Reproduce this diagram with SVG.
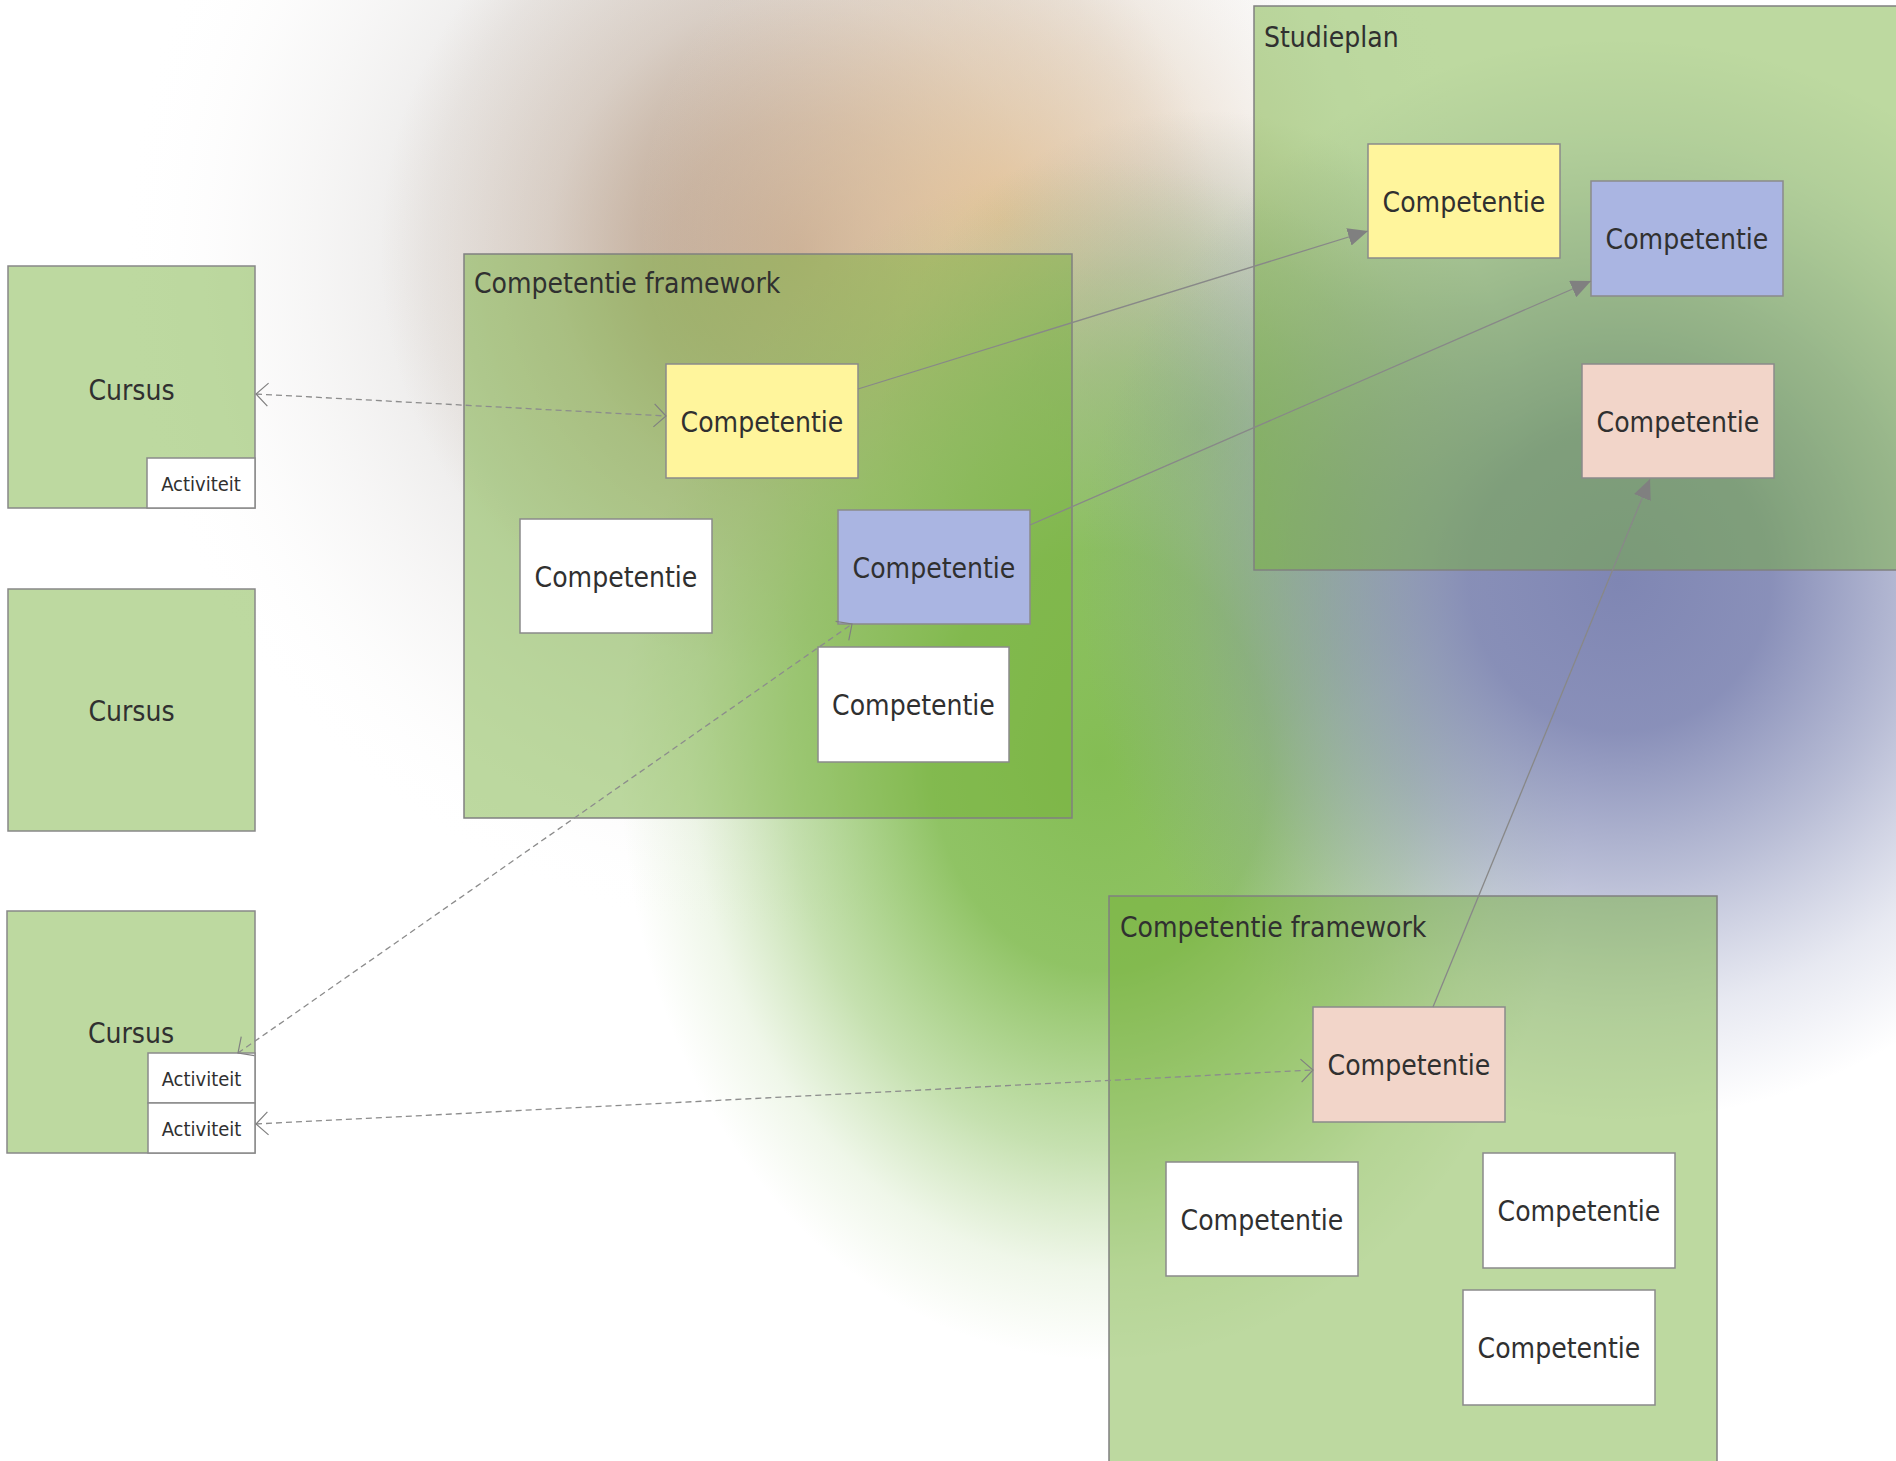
<svg xmlns="http://www.w3.org/2000/svg" width="1896" height="1461" viewBox="0 0 1896 1461">
<style>
.bg{stroke:none}
.frame{fill:#75b039;fill-opacity:0.48;stroke:#808080;stroke-width:1.5}
.course{fill:#75b039;fill-opacity:0.48;stroke:#888888;stroke-width:1.5}
.node{stroke:#8a8a8a;stroke-width:1.5}
.white{fill:#ffffff}
.yellow{fill:#fff59c}
.blue{fill:#aab5e2}
.pink{fill:#f2d5c9}
text{font-family:"DejaVu Sans Condensed","DejaVu Sans","Liberation Sans",sans-serif;font-stretch:condensed;fill:#303030}
.lbl{font-size:28px;text-anchor:middle}
.ttl{font-size:28px}
.act{font-size:20px;text-anchor:middle}
.solid{fill:none;stroke:#888888;stroke-width:1.3;marker-end:url(#arrowFilled)}
.dashed{fill:none;stroke:#8c8c8c;stroke-width:1.3;stroke-dasharray:6 4;marker-start:url(#arrowOpen);marker-end:url(#arrowOpen)}
</style>
<defs>
<radialGradient id="gGray" gradientUnits="userSpaceOnUse" cx="800" cy="260" r="680">
<stop offset="0" stop-color="#c9c2bc" stop-opacity="0.7"/>
<stop offset="0.55" stop-color="#d3d0ce" stop-opacity="0.45"/>
<stop offset="0.8" stop-color="#e6e4e3" stop-opacity="0.2"/>
<stop offset="1" stop-color="#ffffff" stop-opacity="0"/>
</radialGradient>
<radialGradient id="gBrown" gradientUnits="userSpaceOnUse" cx="800" cy="250" r="420">
<stop offset="0" stop-color="#b89a80" stop-opacity="0.95"/>
<stop offset="0.3" stop-color="#b89a80" stop-opacity="0.7"/>
<stop offset="0.6" stop-color="#b89a80" stop-opacity="0.3"/>
<stop offset="1" stop-color="#b89a80" stop-opacity="0"/>
</radialGradient>
<radialGradient id="gTan" gradientUnits="userSpaceOnUse" cx="1000" cy="220" r="360">
<stop offset="0" stop-color="#e8c596" stop-opacity="0.85"/>
<stop offset="0.5" stop-color="#ecd2b2" stop-opacity="0.45"/>
<stop offset="1" stop-color="#f4e8dc" stop-opacity="0"/>
</radialGradient>
<radialGradient id="gMid" gradientUnits="userSpaceOnUse" cx="1200" cy="430" r="320">
<stop offset="0" stop-color="#8fa58a" stop-opacity="0.8"/>
<stop offset="0.55" stop-color="#98a890" stop-opacity="0.45"/>
<stop offset="1" stop-color="#a0a898" stop-opacity="0"/>
</radialGradient>
<radialGradient id="gGreen" gradientUnits="userSpaceOnUse" cx="1100" cy="760" r="480" gradientTransform="translate(1100 760) scale(1 1.25) translate(-1100 -760)">
<stop offset="0" stop-color="#84bd54" stop-opacity="1"/>
<stop offset="0.35" stop-color="#86be57" stop-opacity="0.92"/>
<stop offset="0.65" stop-color="#8cc260" stop-opacity="0.5"/>
<stop offset="0.85" stop-color="#95c76c" stop-opacity="0.15"/>
<stop offset="1" stop-color="#95c76c" stop-opacity="0"/>
</radialGradient>
<radialGradient id="gBlue" gradientUnits="userSpaceOnUse" cx="1620" cy="580" r="540">
<stop offset="0" stop-color="#7f86b3" stop-opacity="1"/>
<stop offset="0.28" stop-color="#7f86b3" stop-opacity="0.92"/>
<stop offset="0.55" stop-color="#8088b4" stop-opacity="0.55"/>
<stop offset="0.8" stop-color="#8890bb" stop-opacity="0.2"/>
<stop offset="1" stop-color="#8890bb" stop-opacity="0"/>
</radialGradient>
<marker id="arrowFilled" viewBox="0 0 20 18" refX="20" refY="9" markerWidth="20" markerHeight="18" markerUnits="userSpaceOnUse" orient="auto">
<path d="M0,0 L20,9 L0,18 Z" fill="#808080"/>
</marker>
<marker id="arrowOpen" viewBox="0 0 14 25" refX="13" refY="12.5" markerWidth="14" markerHeight="25" markerUnits="userSpaceOnUse" orient="auto-start-reverse">
<path d="M1,1 L13,12.5 L1,24" fill="none" stroke="#808080" stroke-width="1.2"/>
</marker>
</defs>

<g id="background">
<rect class="bg" x="0" y="0" width="1896" height="1461" fill="#ffffff"/>
<rect class="bg" x="0" y="0" width="1896" height="1461" fill="url(#gGray)"/>
<rect class="bg" x="0" y="0" width="1896" height="1461" fill="url(#gBrown)"/>
<rect class="bg" x="0" y="0" width="1896" height="1461" fill="url(#gTan)"/>
<rect class="bg" x="0" y="0" width="1896" height="1461" fill="url(#gMid)"/>
<rect class="bg" x="0" y="0" width="1896" height="1461" fill="url(#gGreen)"/>
<rect class="bg" x="0" y="0" width="1896" height="1461" fill="url(#gBlue)"/>
</g>

<g id="frame-framework-1">
<rect class="frame" x="464" y="254" width="608" height="564"/>
<text class="ttl" x="474" y="293">Competentie framework</text>
</g>
<g id="frame-studieplan">
<rect class="frame" x="1254" y="6" width="660" height="564"/>
<text class="ttl" x="1264" y="47">Studieplan</text>
</g>
<g id="frame-framework-2">
<rect class="frame" x="1109" y="896" width="608" height="600"/>
<text class="ttl" x="1120" y="937">Competentie framework</text>
</g>

<g id="cursus-1">
<rect class="course" x="8" y="266" width="247" height="242"/>
<text class="lbl" x="131.5" y="400">Cursus</text>
</g>
<g id="activiteit-1">
<rect class="node white" x="147" y="458" width="108" height="50"/>
<text class="act" x="201" y="491">Activiteit</text>
</g>
<g id="cursus-2">
<rect class="course" x="8" y="589" width="247" height="242"/>
<text class="lbl" x="131.5" y="721">Cursus</text>
</g>
<g id="cursus-3">
<rect class="course" x="7" y="911" width="248" height="242"/>
<text class="lbl" x="131" y="1043">Cursus</text>
</g>
<g id="activiteit-2">
<rect class="node white" x="148" y="1053" width="107" height="50"/>
<text class="act" x="201.5" y="1086">Activiteit</text>
</g>
<g id="activiteit-3">
<rect class="node white" x="148" y="1103" width="107" height="50"/>
<text class="act" x="201.5" y="1136">Activiteit</text>
</g>

<g id="fw1-yellow">
<rect class="node yellow" x="666" y="364" width="192" height="114"/>
<text class="lbl" x="762" y="432">Competentie</text>
</g>
<g id="fw1-white-left">
<rect class="node white" x="520" y="519" width="192" height="114"/>
<text class="lbl" x="616" y="587">Competentie</text>
</g>
<g id="fw1-blue">
<rect class="node blue" x="838" y="510" width="192" height="114"/>
<text class="lbl" x="934" y="578">Competentie</text>
</g>
<g id="fw1-white-bottom">
<rect class="node white" x="818" y="647" width="191" height="115"/>
<text class="lbl" x="913.5" y="715">Competentie</text>
</g>

<g id="sp-yellow">
<rect class="node yellow" x="1368" y="144" width="192" height="114"/>
<text class="lbl" x="1464" y="212">Competentie</text>
</g>
<g id="sp-blue">
<rect class="node blue" x="1591" y="181" width="192" height="115"/>
<text class="lbl" x="1687" y="249">Competentie</text>
</g>
<g id="sp-pink">
<rect class="node pink" x="1582" y="364" width="192" height="114"/>
<text class="lbl" x="1678" y="432">Competentie</text>
</g>

<g id="fw2-pink">
<rect class="node pink" x="1313" y="1007" width="192" height="115"/>
<text class="lbl" x="1409" y="1075">Competentie</text>
</g>
<g id="fw2-white-left">
<rect class="node white" x="1166" y="1162" width="192" height="114"/>
<text class="lbl" x="1262" y="1230">Competentie</text>
</g>
<g id="fw2-white-right">
<rect class="node white" x="1483" y="1153" width="192" height="115"/>
<text class="lbl" x="1579" y="1221">Competentie</text>
</g>
<g id="fw2-white-bottom">
<rect class="node white" x="1463" y="1290" width="192" height="115"/>
<text class="lbl" x="1559" y="1358">Competentie</text>
</g>

<g id="connectors">
<path class="dashed" d="M256,394 L666,416"/>
<path class="dashed" d="M238,1053 L852,624"/>
<path class="dashed" d="M256,1124 L1313,1070"/>
<path class="solid" d="M858,389 L1368,231"/>
<path class="solid" d="M1030,525 L1591,281"/>
<path class="solid" d="M1433,1007 L1650,479"/>
</g>
</svg>
